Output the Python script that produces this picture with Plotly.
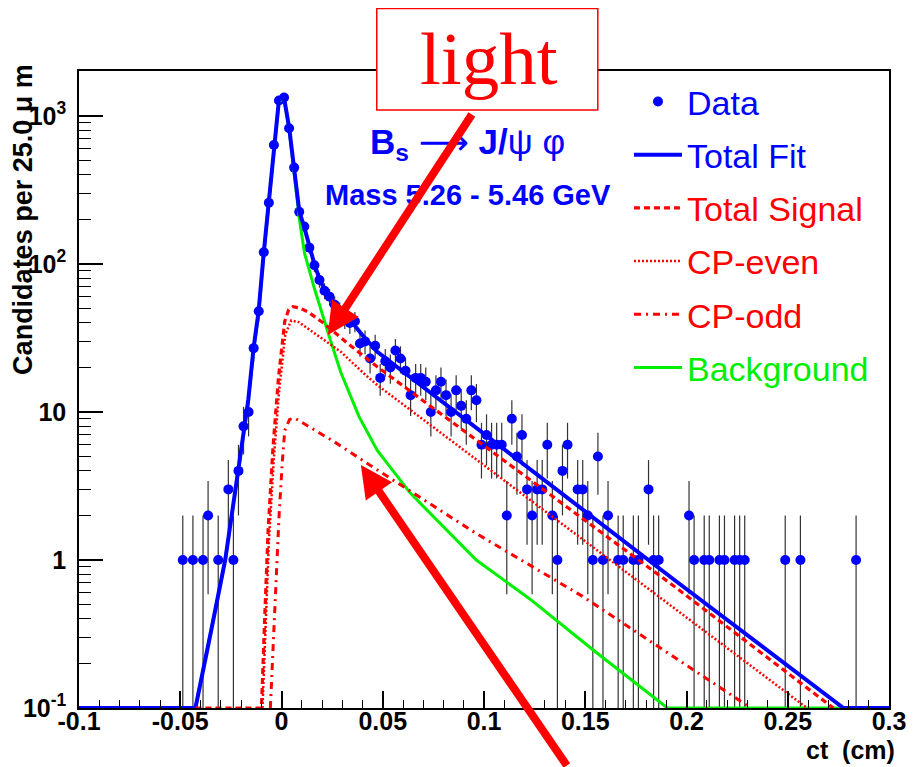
import numpy as np
import plotly.graph_objects as go

# ---------------- data ----------------
data_ct = [-0.04875, -0.04375, -0.03875, -0.03625, -0.03125, -0.02625, -0.02375, -0.02125,
           -0.01875, -0.01625, -0.01375, -0.01125, -0.00875, -0.00625, -0.00375, -0.00125,
           0.00125, 0.00375, 0.00625, 0.00875, 0.01125, 0.01375, 0.01625, 0.01875, 0.02125,
           0.02375, 0.02625, 0.02875, 0.03125, 0.03375, 0.03625, 0.03875, 0.04125, 0.04375,
           0.04625, 0.04875, 0.05125, 0.05375, 0.05625, 0.05875, 0.06125, 0.06375, 0.06625,
           0.06875, 0.07125, 0.07375, 0.07625, 0.07875, 0.08125, 0.08375, 0.08625, 0.08875,
           0.09125, 0.09375, 0.09625, 0.09875, 0.10125, 0.10375, 0.10625, 0.10875, 0.11125,
           0.11375, 0.11625, 0.11875, 0.12125, 0.12375, 0.12625, 0.12875, 0.13125, 0.13375,
           0.13625, 0.13875, 0.14125, 0.14625, 0.14875, 0.15125, 0.15375, 0.15625, 0.15875,
           0.16125, 0.16625, 0.16875, 0.17375, 0.17625, 0.18125, 0.18375, 0.18625, 0.20125,
           0.20375, 0.20875, 0.21125, 0.21625, 0.21875, 0.22375, 0.22625, 0.22875, 0.24875,
           0.25625, 0.28375]
data_n = [1, 1, 1, 2, 1, 3, 1, 4,
          8, 10, 27, 48, 120, 259, 637, 1274,
          1334, 826, 448, 225, 179, 129, 98, 78, 66,
          60, 53, 48, 43, 40, 41, 29, 30, 23,
          28, 17, 22, 20, 26, 23, 19, 13, 17,
          17, 16, 10, 14, 16, 13, 10, 14, 11,
          9, 14, 12, 6, 7, 6, 6, 6, 2,
          9, 5, 7, 3, 2, 3, 3, 6, 2,
          1, 4, 6, 3, 3, 2, 1, 5, 1,
          2, 1, 1, 1, 1, 3, 1, 1, 2,
          1, 1, 1, 1, 1, 1, 1, 1, 1,
          1, 1]

fit_ct = [-0.1, -0.0425, -0.035, -0.0278, -0.0213, -0.0164, -0.0138, -0.0113, -0.0088, -0.0063,
          -0.0038, -0.0013, 0.0005, 0.0013, 0.0038, 0.0063, 0.0088, 0.0113, 0.0138, 0.0163,
          0.0188, 0.0213, 0.0238, 0.0263, 0.0326, 0.040, 0.0473, 0.1942, 0.2775, 0.3]
fit_y = [0.1, 0.1, 0.32, 1.0, 4.1, 12.1, 27, 48, 118, 258,
         630, 1270, 1340, 1320, 830, 445, 226, 176, 130, 99,
         79, 67, 60, 54, 44, 33, 25.5, 0.73, 0.1, 0.1]

sig_ct = [-0.0425, -0.0099, -0.0082, -0.0066, -0.0042, -0.0015, 0.0016, 0.0035, 0.0056, 0.0090,
          0.013, 0.0212, 0.0326, 0.0473, 0.1942, 0.2725]
sig_y = [0.1, 0.1, 0.44, 1.6, 5.8, 17, 41, 49, 51.4, 50.5,
         47.5, 39.5, 29.1, 20.2, 0.66, 0.1]

even_ct = [-0.0094, -0.0078, -0.0062, -0.0038, -0.0012, 0.0019, 0.0048, 0.0085, 0.0114, 0.0195,
           0.0293, 0.0407, 0.0473, 0.2595]
even_y = [0.1, 0.38, 1.35, 4.8, 13.8, 33.5, 41.5, 40.5, 38.0, 32.0,
          25.5, 18.2, 15.2, 0.1]

odd_ct = [-0.0055, -0.0032, -0.0012, 0.0004, 0.0016, 0.0040, 0.0065, 0.026, 0.0473, 0.0962,
          0.1485, 0.2318]
odd_y = [0.1, 0.5, 2.0, 4.6, 7.5, 8.9, 9.1, 6.3, 4.06, 1.51,
         0.57, 0.1]

bkg_ct = [-0.0425, -0.0278, -0.0213, -0.0164, -0.0138, -0.0113, -0.0088, -0.0063, -0.0038, -0.0013,
          0.0005, 0.0013, 0.0038, 0.0063, 0.0075, 0.0089, 0.0114, 0.0163, 0.0228, 0.0293,
          0.0383, 0.0473, 0.0636, 0.0799, 0.0962, 0.1223, 0.155, 0.1906, 0.2775]
bkg_y = [0.1, 1.0, 4.0, 11.8, 26, 46, 114, 250, 610, 1240,
         1310, 1290, 800, 415, 300, 198, 118, 68, 35, 18.5,
         9.3, 5.5, 2.83, 1.68, 1.0, 0.55, 0.24, 0.1, 0.1]

x_tick_vals = [-0.1, -0.05, 0, 0.05, 0.1, 0.15, 0.2, 0.25, 0.3]
x_tick_text = ["-0.1", "-0.05", "0", "0.05", "0.1", "0.15", "0.2", "0.25", "0.3"]
y_tick_vals = [0.1, 1, 10, 100, 1000]
y_tick_text = ["10<sup>-1</sup>", "1", "10", "10<sup>2</sup>", "10<sup>3</sup>"]

legend_names = ["Data", "Total Fit", "Total Signal", "CP-even", "CP-odd", "Background"]

BLUE = "#0000ff"
RED = "#ff0000"
GREEN = "#00ee00"
SANS = "Liberation Sans"

n = np.array(data_n, dtype=float)
err_plus = np.sqrt(n)
err_minus = n - np.maximum(n - np.sqrt(n), 1e-3)


def lname(text, color):
    return f'<span style="color:{color}">{text}</span>'


fig = go.Figure()
fig.add_trace(go.Scatter(
    x=data_ct, y=data_n, mode="markers",
    marker=dict(color=BLUE, size=10),
    error_y=dict(type="data", symmetric=False, array=err_plus, arrayminus=err_minus,
                 color="#333333", thickness=1.2, width=0),
    name=lname(legend_names[0], BLUE), legendgroup="a", legendrank=1))
fig.add_trace(go.Scatter(x=bkg_ct, y=bkg_y, mode="lines",
                         line=dict(color=GREEN, width=3),
                         name=lname(legend_names[5], GREEN), legendgroup="f", legendrank=6))
fig.add_trace(go.Scatter(x=fit_ct, y=fit_y, mode="lines",
                         line=dict(color=BLUE, width=4),
                         name=lname(legend_names[1], BLUE), legendgroup="b", legendrank=2))
fig.add_trace(go.Scatter(x=sig_ct, y=sig_y, mode="lines",
                         line=dict(color=RED, width=3.2, dash="6px,4px"),
                         name=lname(legend_names[2], RED), legendgroup="c", legendrank=3))
fig.add_trace(go.Scatter(x=even_ct, y=even_y, mode="lines",
                         line=dict(color=RED, width=2.5, dash="2px,2px"),
                         name=lname(legend_names[3], RED), legendgroup="d", legendrank=4))
fig.add_trace(go.Scatter(x=odd_ct, y=odd_y, mode="lines",
                         line=dict(color=RED, width=3, dash="7px,5px,2px,5px"),
                         name=lname(legend_names[4], RED), legendgroup="e", legendrank=5))

fig.update_xaxes(
    range=[-0.1, 0.3], tickmode="array", tickvals=x_tick_vals, ticktext=x_tick_text,
    ticks="inside", ticklen=17, tickwidth=1.5, tickcolor="black",
    showline=True, linecolor="black", linewidth=1.5, mirror=True,
    showgrid=False, zeroline=False, ticklabelstandoff=-10,
    tickfont=dict(family=SANS, size=25, color="black", weight="bold"),
    minor=dict(dtick=0.01, tick0=0, ticks="inside", ticklen=8, tickwidth=1.2,
               tickcolor="black", showgrid=False))

minor_y = [m * 10.0 ** e for e in range(-1, 4) for m in range(2, 10)]
fig.update_yaxes(
    type="log", range=[-1, 3.304], tickmode="array", tickvals=y_tick_vals, ticktext=y_tick_text,
    ticks="inside", ticklen=24, tickwidth=1.5, tickcolor="black",
    showline=True, linecolor="black", linewidth=1.5, mirror=True,
    showgrid=False, zeroline=False, ticklabelstandoff=6,
    tickfont=dict(family=SANS, size=25, color="black", weight="bold"),
    minor=dict(tickmode="array", tickvals=minor_y, ticks="inside", ticklen=12, tickwidth=1.2,
               tickcolor="black", showgrid=False))

fig.update_layout(
    width=910, height=759,
    margin=dict(l=71, r=22, t=63, b=59),
    paper_bgcolor="white", plot_bgcolor="white",
    showlegend=True,
    legend=dict(x=0.679, y=0.997, xanchor="left", yanchor="top",
                font=dict(family=SANS, size=34),
                bgcolor="rgba(0,0,0,0)", borderwidth=0,
                tracegroupgap=6, traceorder="grouped", itemwidth=48),
)

# "light" box
fig.add_shape(type="rect", xref="paper", yref="paper",
              x0=0.3676, x1=0.6405, y0=0.9388, y1=1.0980,
              line=dict(color=RED, width=1.5), fillcolor="white", layer="above")

annotations = [
    dict(text="light", xref="paper", yref="paper", x=0.5061, y=1.0204,
         xanchor="center", yanchor="middle", showarrow=False,
         font=dict(family="Liberation Serif", size=75, color=RED)),
    dict(text="<b>B<sub>s</sub></b> <span style=\"font-family:DejaVu Sans\">⟶</span> <b>J/</b>ψ φ",
         xref="paper", yref="paper", x=0.3562, y=0.8854,
         xanchor="left", yanchor="middle", showarrow=False,
         font=dict(family=SANS, size=35, color=BLUE)),
    dict(text="<b>Mass 5.26 - 5.46 GeV</b>", xref="paper", yref="paper", x=0.3011, y=0.8053,
         xanchor="left", yanchor="middle", showarrow=False,
         font=dict(family=SANS, size=29, color=BLUE)),
    dict(text="<b>Candidates per 25.0 μ m</b>", xref="paper", yref="paper", x=-0.0700, y=1.014,
         xanchor="center", yanchor="top", textangle=-90, showarrow=False,
         font=dict(family=SANS, size=27, color="black")),
    dict(text="<b>ct  (cm)</b>", xref="paper", yref="paper", x=1.010, y=-0.0660,
         xanchor="right", yanchor="middle", showarrow=False,
         font=dict(family=SANS, size=25, color="black")),
    dict(text="", xref="paper", yref="paper", x=0.3072, y=0.5856,
         ax=145, ay=-222, axref="pixel", ayref="pixel",
         showarrow=True, arrowhead=2, arrowsize=0.8, arrowwidth=8, arrowcolor=RED),
    dict(text="", xref="paper", yref="paper", x=(363.3 - 79) / 817, y=1 - (465 - 71) / 637,
         ax=207, ay=302, axref="pixel", ayref="pixel",
         showarrow=True, arrowhead=2, arrowsize=0.8, arrowwidth=8, arrowcolor=RED),
]
fig.update_layout(annotations=annotations)

fig.write_html("out.html")
